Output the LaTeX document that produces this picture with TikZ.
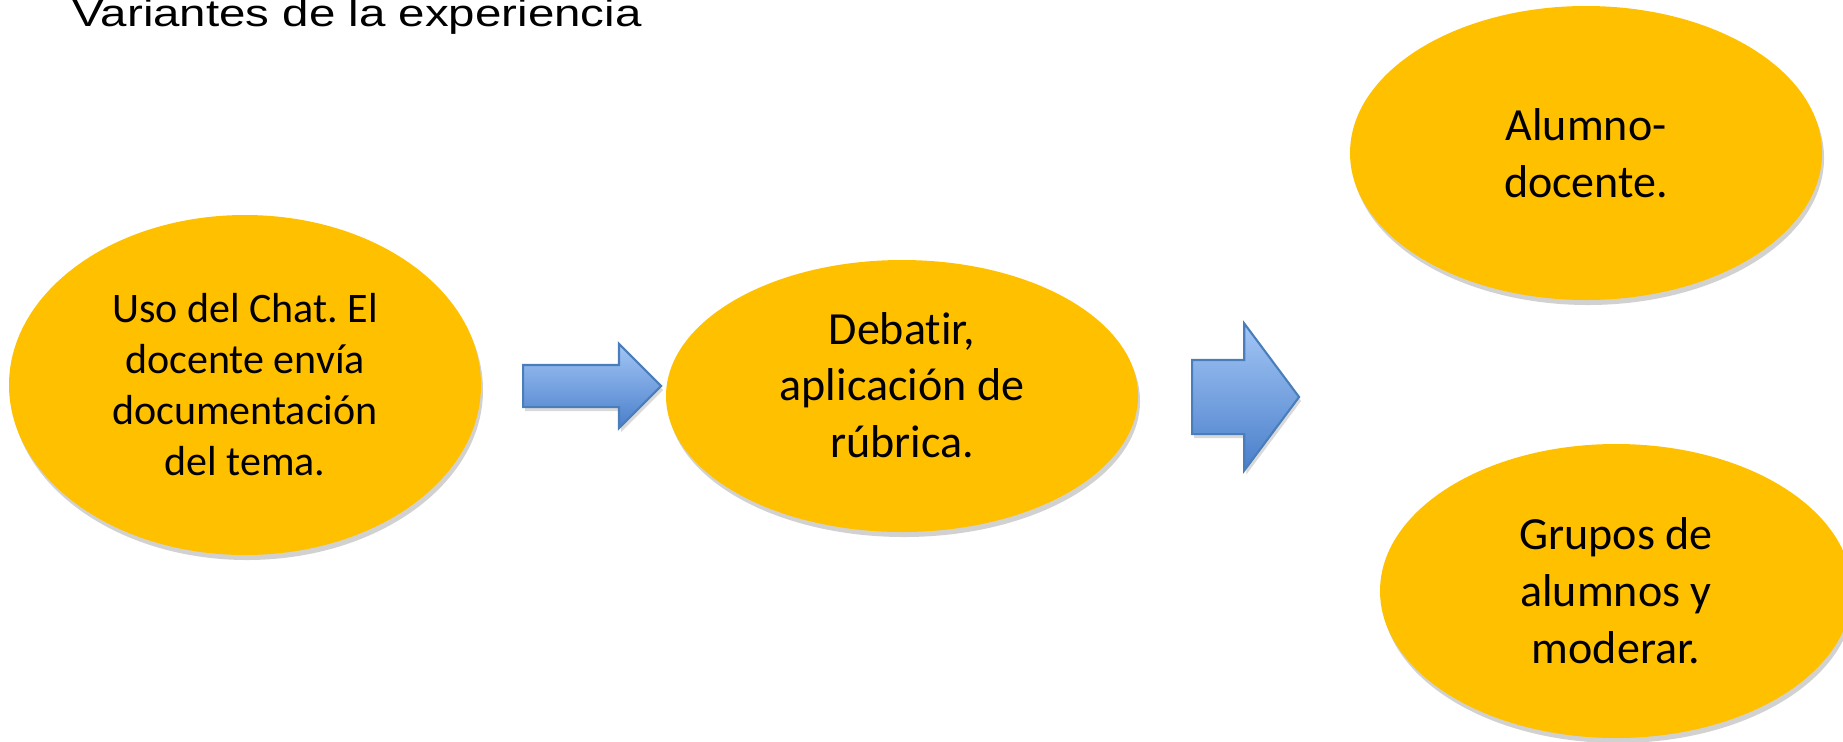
\documentclass[tikz,border=0pt]{standalone}
\usepackage{fontspec}
\setmainfont{Carlito}[Ligatures=NoCommon]
\newfontfamily\titlefont[FakeStretch=1.25]{Liberation Sans}
\usepackage{tikz}
\usetikzlibrary{shapes,shadows}
\definecolor{gold}{HTML}{FFC000}
\definecolor{arrowtop}{HTML}{A3C6F5}
\definecolor{arrowbot}{HTML}{4A7FCB}
\definecolor{arrowline}{HTML}{4A7EBB}
\frenchspacing

\begin{document}
\begin{tikzpicture}[
  blob/.style={ellipse, fill=gold, inner sep=0pt, minimum width=4.72cm, align=center,
    drop shadow={shadow xshift=0.02cm, shadow yshift=-0.05cm, fill=black, opacity=0.18},
    font=\fontsize{13.1}{16.2}\selectfont},
  bluearrow/.style={single arrow, draw=arrowline, line width=0.6pt, top color=arrowtop,
    bottom color=arrowbot, inner xsep=0pt, anchor=tail,
    drop shadow={shadow xshift=0.02cm, shadow yshift=-0.04cm, fill=black, opacity=0.15}}]
\useasboundingbox (0,0) rectangle (18.43,7.41);

\node (T) at (0.72,7.15) [anchor=base west, inner sep=0pt, font=\titlefont\fontsize{10.8}{13}\selectfont] {Variantes de la experiencia};

\node (E1) at (2.45,3.56) [blob, minimum height=3.40cm, font=\fontsize{11.95}{14.5}\selectfont] {Uso del Chat. El\\docente envía\\documentación\\del tema.};
\node (E2) at (9.02,3.45) [blob, minimum height=2.72cm, text depth=0.22cm] {Debatir,\\aplicación de\\rúbrica.};
\node (E3) at (15.86,5.88) [blob, minimum height=2.94cm] {Alumno-\\docente.};
\node (E4) at (16.16,1.50) [blob, minimum height=2.94cm] {Grupos de\\alumnos y\\moderar.};

%\draw[->] (E1) -- (E2);
\node (F1) at (5.22,3.55) [bluearrow, minimum height=1.38cm, inner ysep=0.20cm,
  single arrow head extend=0.21cm, single arrow tip angle=90] {};
\node (F2) at (11.91,3.44) [bluearrow, minimum height=1.07cm, inner ysep=0.36cm,
  single arrow head extend=0.365cm, single arrow tip angle=106.6] {};
\end{tikzpicture}
\end{document}
